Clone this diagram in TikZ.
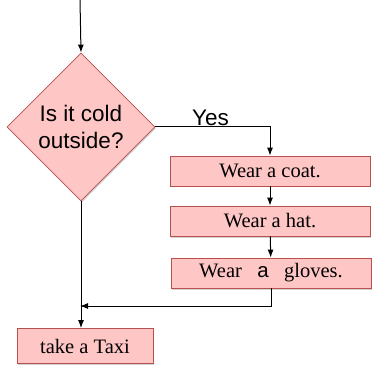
\documentclass[tikz,border=0pt]{standalone}
\usepackage{fontspec}
\setmainfont{Liberation Serif}
\setsansfont{Liberation Sans}
\usepackage{tikz}
\usetikzlibrary{shapes.geometric,shadows,arrows.meta}
\definecolor{boxfill}{RGB}{255, 198, 198}
\definecolor{boxline}{RGB}{185, 80, 80}

\tikzset{
    stepbox/.style={draw=boxline, fill=boxfill, thick, minimum height=30pt,
        inner sep=0pt, font=\fontsize{20.5}{22}\selectfont,
        drop shadow={shadow xshift=1pt, shadow yshift=-1.5pt, opacity=0.35}},
    question/.style={diamond, draw=boxline, fill=boxfill, thick, aspect=1,
        minimum width=148pt, minimum height=148pt, inner sep=0pt, align=center,
        font=\sffamily\fontsize{22.5}{27}\selectfont,
        drop shadow={shadow xshift=1pt, shadow yshift=-1.5pt, opacity=0.35}},
    flow/.style={->, line width=1pt}
}

\begin{document}
\begin{tikzpicture}[x=1pt, y=-1pt, >={Latex[length=8pt,width=6pt]}]
        \useasboundingbox (0,0) rectangle (372,366);
        % 判断
        \node[question] (cold) at (81,127) {Is it cold\\outside?};
        % 步骤
        \node[stepbox, minimum width=200pt] (coat) at (270,171) {Wear a coat.};
        \node[stepbox, minimum width=200pt] (hat) at (270,221) {Wear a hat.};
        \node[stepbox, minimum width=200pt] (gloves) at (271,273)
            {Wear\ \ \ {\sffamily a}\ \ \ gloves.};
        \node[stepbox, minimum width=136pt, minimum height=35pt] (taxi) at (85,346) {take a Taxi};
        % 连线
        \coordinate (start) at (80,0);
        \coordinate (join) at (80,306);
        \draw[flow] (start) -- (cold.north);
        \draw[flow] (cold.east) -| node[pos=0.24, above, inner sep=1pt, font=\sffamily\fontsize{22.5}{24}\selectfont] {Yes} (coat.north);
        \draw[flow] (coat) -- (hat);
        \draw[flow] (hat) -- (gloves);
        \draw[flow] (gloves.south) |- (join);
        \draw[flow] (cold.south) -- (cold.south |- taxi.north);
    \end{tikzpicture}
\end{document}
